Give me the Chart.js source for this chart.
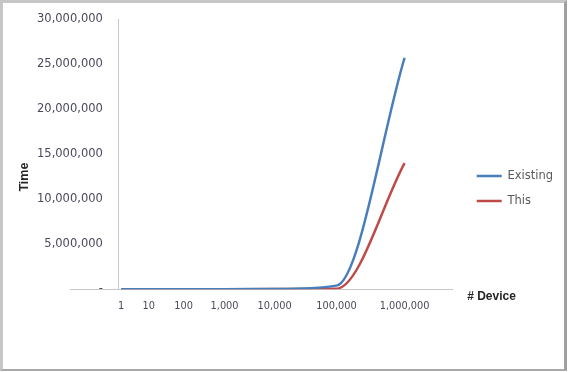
<!DOCTYPE html>
<html>
<head>
<meta charset="utf-8">
<script src="https://cdn.jsdelivr.net/npm/chart.js@4.4.1/dist/chart.umd.min.js"></script>
<style>
  html, body { margin: 0; padding: 0; background: #ffffff; }
  #wrap { position: relative; width: 568px; height: 372px; }
  #c { position: absolute; left: 0; top: 0; }
  #frame { position: absolute; left: 0; top: 0; width: 567px; height: 371px; box-sizing: border-box;
           border-top: 3px solid #c6c6c6; border-left: 3px solid #c6c6c6;
           border-right: 3px solid #a0a0a0; border-bottom: 2px solid #a8a8a8; pointer-events: none; }
</style>
</head>
<body>
<div id="wrap">
  <canvas id="c" width="568" height="372"></canvas>
  <div id="frame"></div>
</div>
<script>
// ---- data ----
const deviceLabels = ['1', '10', '100', '1,000', '10,000', '100,000', '1,000,000'];
// position of each device count along the (non-uniform) horizontal axis, in axis units
const devicePositions = [0.05, 0.63, 1.36, 2.22, 3.27, 4.57, 6.0];
const existingTime = [0, 0, 0, 5000, 30000, 400000, 25700000];
const thisTime = [0, 0, 0, 0, 20000, 60000, 14000000];
const yTickValues = [0, 5000000, 10000000, 15000000, 20000000, 25000000, 30000000];
const yTickLabels = ['-', '5,000,000', '10,000,000', '15,000,000', '20,000,000', '25,000,000', '30,000,000'];
const seriesNames = ['Existing', 'This'];
const seriesColors = ['#4a7ebb', '#be4b48'];

function toPoints(values) {
  return values.map((v, i) => ({ x: devicePositions[i], y: v }));
}

const axisDecor = {
  id: 'axisDecor',
  afterLayout(chart) {
    // nudge the legend to sit where Excel put it
    const lg = chart.legend;
    lg.left += 11; lg.right += 11;
    lg.top += 17.5; lg.bottom += 17.5;
  },
  afterDraw(chart) {
    const { ctx, chartArea } = chart;
    ctx.save();
    // horizontal axis line continues to the left of the vertical axis
    ctx.strokeStyle = '#c8c8c8';
    ctx.lineWidth = 1;
    ctx.beginPath();
    ctx.moveTo(chartArea.left - 49, Math.round(chartArea.bottom) + 0.5);
    ctx.lineTo(chartArea.left, Math.round(chartArea.bottom) + 0.5);
    ctx.stroke();
    // axis titles
    ctx.fillStyle = '#262626';
    ctx.font = 'bold 12px "Liberation Sans", Arial, sans-serif';
    ctx.textAlign = 'left';
    ctx.textBaseline = 'middle';
    ctx.fillText('# Device', chartArea.right + 15, chartArea.bottom + 7);
    ctx.translate(chartArea.left - 94, (chartArea.top + chartArea.bottom) / 2 + 23);
    ctx.rotate(-Math.PI / 2);
    ctx.textAlign = 'center';
    ctx.font = 'bold 12.5px "Liberation Sans", Arial, sans-serif';
    ctx.fillText('Time', 0, 0);
    ctx.restore();
  }
};

new Chart(document.getElementById('c'), {
  type: 'line',
  data: {
    datasets: [
      { label: seriesNames[0], data: toPoints(existingTime), borderColor: seriesColors[0], backgroundColor: seriesColors[0],
        borderWidth: 2.5, pointRadius: 0, cubicInterpolationMode: 'monotone', fill: false },
      { label: seriesNames[1], data: toPoints(thisTime), borderColor: seriesColors[1], backgroundColor: seriesColors[1],
        borderWidth: 2.5, pointRadius: 0, cubicInterpolationMode: 'monotone', fill: false }
    ]
  },
  options: {
    responsive: false,
    animation: false,
    devicePixelRatio: 1,
    layout: { padding: { left: 21, top: 19, right: 16, bottom: 49 } },
    plugins: {
      tooltip: { enabled: false },
      legend: {
        position: 'right',
        labels: {
          boxWidth: 25,
          boxHeight: 0,
          padding: 13.5,
          color: '#595959',
          font: { family: '"DejaVu Sans", sans-serif', size: 11.5 }
        }
      }
    },
    scales: {
      x: {
        type: 'linear',
        min: 0,
        max: 7,
        grid: { display: false, drawTicks: false },
        border: { display: true, color: '#c8c8c8', width: 1 },
        afterBuildTicks: (scale) => { scale.ticks = devicePositions.map(v => ({ value: v })); },
        ticks: {
          autoSkip: false,
          maxRotation: 0,
          padding: 11,
          color: '#4a4a5e',
          font: { family: '"DejaVu Sans", sans-serif', size: 9.8 },
          callback: (v, i) => deviceLabels[i]
        }
      },
      y: {
        type: 'linear',
        position: 'left',
        min: 0,
        max: 30000000,
        grid: { display: false, drawTicks: false },
        border: { display: true, color: '#c8c8c8', width: 1 },
        afterBuildTicks: (scale) => { scale.ticks = yTickValues.map(v => ({ value: v })); },
        afterFit: (scale) => { scale.paddingTop = 7; },
        ticks: {
          padding: 16,
          color: '#4a4a5e',
          font: { family: '"DejaVu Sans", sans-serif', size: 11.5 },
          callback: (v, i) => yTickLabels[i]
        }
      }
    }
  },
  plugins: [axisDecor]
});
</script>
</body>
</html>
